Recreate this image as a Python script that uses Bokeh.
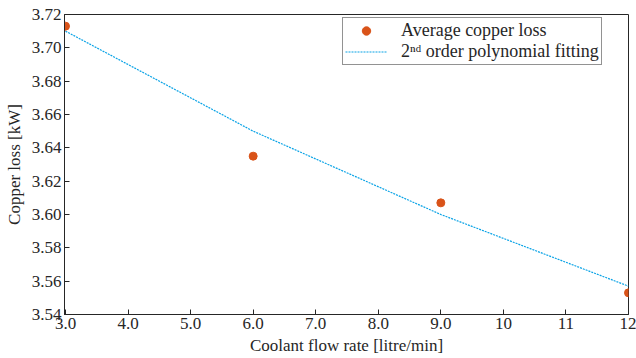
from bokeh.plotting import figure
from bokeh.models import Range1d, FixedTicker, Legend, LegendItem
from bokeh.embed import file_html
from bokeh.resources import INLINE

flow_rate = [3.0, 6.0, 9.0, 12.0]
avg_copper_loss = [3.713, 3.635, 3.607, 3.553]
poly_fit = [3.710, 3.650, 3.600, 3.557]

x_ticks = [3, 4, 5, 6, 7, 8, 9, 10, 11, 12]
x_tick_labels = ["3.0", "4.0", "5.0", "6.0", "7.0", "8.0", "9.0", "10", "11", "12"]
y_ticks = [3.54, 3.56, 3.58, 3.60, 3.62, 3.64, 3.66, 3.68, 3.70, 3.72]
y_tick_labels = ["%.2f" % v for v in y_ticks]

FONT = "Times New Roman"
DARK = "#262626"

p = figure(width=636, height=358, output_backend="svg", toolbar_location=None,
           x_range=Range1d(2.984, 12.0), y_range=Range1d(3.54, 3.72),
           min_border_left=64, min_border_right=8, min_border_top=14, min_border_bottom=44)
p.grid.visible = False
p.outline_line_color = DARK
p.outline_line_width = 1

p.xaxis.ticker = FixedTicker(ticks=x_ticks)
p.xaxis.major_label_overrides = dict(zip(x_ticks, x_tick_labels))
p.yaxis.ticker = FixedTicker(ticks=y_ticks)
p.yaxis.major_label_overrides = dict(zip(y_ticks, y_tick_labels))

p.xaxis.axis_label = "Coolant flow rate [litre/min]"
p.yaxis.axis_label = "Copper loss [kW]"
p.axis.minor_tick_line_color = None
p.axis.major_tick_in = 5
p.axis.major_tick_out = 0
p.axis.axis_line_color = DARK
p.axis.major_tick_line_color = DARK
p.axis.major_label_text_font = FONT
p.axis.major_label_text_font_size = "17px"
p.axis.major_label_text_color = DARK
p.axis.axis_label_text_font = FONT
p.axis.axis_label_text_font_size = "17px"
p.axis.axis_label_text_font_style = "normal"
p.axis.axis_label_text_color = DARK
p.xaxis.major_label_standoff = 3
p.xaxis.axis_label_standoff = 4
p.yaxis.major_label_standoff = 3
p.yaxis.axis_label_standoff = 5

fit_r = p.line(flow_rate, poly_fit, line_color="#0AA3E6", line_width=1.2, line_dash="2 1")
pts_r = p.scatter(flow_rate, avg_copper_loss, size=8, fill_color="#D95319", line_color="#D95319")

legend = Legend(items=[
    LegendItem(label="Average copper loss", renderers=[pts_r]),
    LegendItem(label="2\u207f\u1d48 order polynomial fitting", renderers=[fit_r]),
], location=(278, 249))
legend.label_text_font = FONT
legend.label_text_font_size = "18px"
legend.label_text_color = DARK
legend.border_line_color = DARK
legend.border_line_width = 1
legend.glyph_width = 42
legend.glyph_height = 21
legend.label_height = 21
legend.label_standoff = 14
legend.padding = 2
legend.spacing = 0
legend.margin = 0
p.add_layout(legend, "center")

open("out.html", "w").write(file_html(p, INLINE))
